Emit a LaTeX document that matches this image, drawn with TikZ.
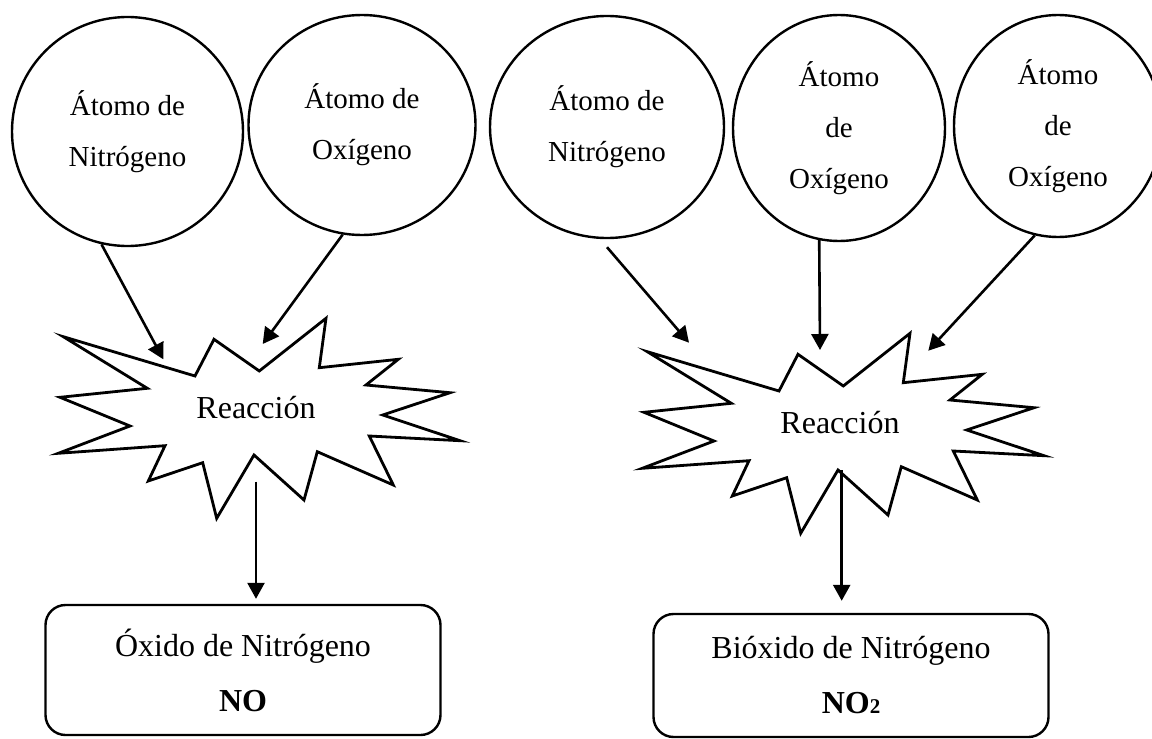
\documentclass[tikz,border=0pt]{standalone}
\usepackage{fontspec}
\setmainfont{Liberation Serif}
\usetikzlibrary{shapes.geometric,arrows.meta,calc}
\tikzset{every path/.style={line width=1.2pt},
  atom/.style={draw,ellipse,inner sep=0pt,align=center,font=\fontsize{14.5}{25.5}\selectfont},
  prod/.style={draw,rounded corners=10pt,align=center,minimum width=197.5pt,font=\fontsize{16}{27.5}\selectfont},
  arr/.style={line width=1.3pt,-{Triangle[length=8pt,width=8.5pt]}},
  burst/.pic={\draw[line width=1.4pt,line join=miter] (-192.7,-71.3) -- (-61,-32) -- (-42,-68.7) -- (3.3,-37) -- (70,-89.7) -- (63.3,-40.3)
     -- (142.3,-48.7) -- (110,-23) -- (194,-15.3) -- (126.7,7) -- (204,32.7) -- (113.3,28) -- (137.3,77) -- (61.3,43.7)
     -- (48,92) -- (-2,47) -- (-39.3,110.3) -- (-53.3,54.7) -- (-107.7,73) -- (-91,37.7) -- (-197.7,45.3) -- (-126,18)
     -- (-196,-10.7) -- (-108.7,-19.7) -- cycle;}}

\begin{document}
\begin{tikzpicture}[x=0.5pt,y=-0.5pt]
  \useasboundingbox (0,0) rectangle (1152,739);
  % atoms
  \node[atom,minimum width=115.5pt,minimum height=114.5pt] (n1) at (127.5,131.5) {Átomo de\\Nitrógeno};
  \node[atom,minimum width=113.5pt,minimum height=110pt] (o1) at (362,125) {Átomo de\\Oxígeno};
  \node[atom,minimum width=117pt,minimum height=111pt] (n2) at (607,127) {Átomo de\\Nitrógeno};
  \node[atom,minimum width=106pt,minimum height=113pt] (o2) at (839,128) {Átomo\\de\\Oxígeno};
  \node[atom,minimum width=104pt,minimum height=111pt] (o3) at (1058,126) {Átomo\\de\\Oxígeno};
  % reactions
  \node[font=\fontsize{16}{19}\selectfont] (r1) at (256,408) {Reacción};
  \node[font=\fontsize{16}{19}\selectfont] (r2) at (840,423) {Reacción};
  \pic at (r1) {burst};
  \pic at (r2) {burst};
  % products
  \node[prod,minimum height=65pt] (p1) at (243,670) {Óxido de Nitrógeno\\\textbf{NO}};
  \node[prod,minimum height=61.5pt] (p2) at (851,675.5) {Bióxido de Nitrógeno\\\textbf{NO{\fontsize{10.5}{10}\selectfont 2}}};
  % arrow ends
  \coordinate (r1a) at ($(r1)+(-92.7,-48.7)$);
  \coordinate (r1b) at ($(r1)+(6.7,-64)$);
  \coordinate (r1o) at ($(r1)+(0,73.7)$);
  \coordinate (r2a) at ($(r2)+(-151,-80.3)$);
  \coordinate (r2b) at ($(r2)+(-20,-73)$);
  \coordinate (r2c) at ($(r2)+(88.3,-72.3)$);
  \coordinate (r2o) at ($(r2)+(1.7,47)$);
  \draw[arr] (n1.257) -- (r1a);
  \draw[arr] (o1.260) -- (r1b);
  \draw[arr] ([yshift=-4pt]n2.south) -- (r2a);
  \draw[arr] (o2.260) -- (r2b);
  \draw[arr] (o3.258) -- (r2c);
  \draw[arr,shorten >=2.5pt] (r1o) -- (r1o |- p1.north);
  \draw[arr,shorten >=6pt] (r2o) -- (r2o |- p2.north);
\end{tikzpicture}
\end{document}
